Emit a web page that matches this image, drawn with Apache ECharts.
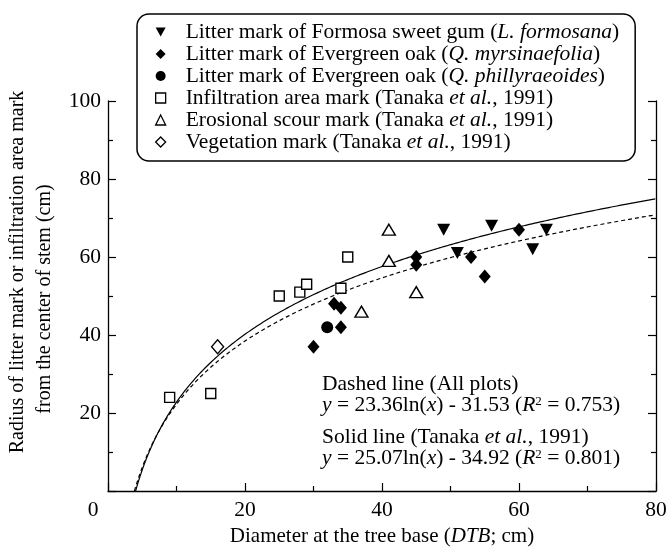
<!DOCTYPE html>
<html>
<head>
<meta charset="utf-8">
<script src="https://cdn.jsdelivr.net/npm/echarts@6/dist/echarts.min.js"></script>
<style>
  html, body { margin: 0; padding: 0; background: #fff; }
  #chart { width: 669px; height: 548px; }
</style>
</head>
<body>
<div id="chart"></div>
<script>
const FONT = '"Liberation Serif", "Times New Roman", serif';

// Legend entries and the italic fragment inside each
const seriesNames = [
  'Litter mark of Formosa sweet gum (L. formosana)',
  'Litter mark of Evergreen oak (Q. myrsinaefolia)',
  'Litter mark of Evergreen oak (Q. phillyraeoides)',
  'Infiltration area mark (Tanaka et al., 1991)',
  'Erosional scour mark (Tanaka et al., 1991)',
  'Vegetation mark (Tanaka et al., 1991)'
];
const italicParts = ['L. formosana', 'Q. myrsinaefolia', 'Q. phillyraeoides', 'et al.', 'et al.', 'et al.'];

// Measurements: diameter at tree base (cm) and mark radius (cm)
const sweetGumX = [49, 51, 56, 62, 64];
const sweetGumY = [67, 61, 68, 62, 67];
const myrsinaefoliaX = [30, 33, 34, 34, 45, 45, 53, 55, 60];
const myrsinaefoliaY = [37, 48, 47, 42, 60, 58, 60, 55, 67];
const phillyraeoidesX = [32];
const phillyraeoidesY = [42];
const infiltrationX = [9, 15, 25, 28, 29, 34, 35];
const infiltrationY = [24, 25, 50, 51, 53, 52, 60];
const erosionalX = [37, 41, 41, 45];
const erosionalY = [46, 67, 59, 51];
const vegetationX = [16];
const vegetationY = [37];

// Logarithmic fits y = a ln(x) + b
const dashedFit = [23.36, -31.53];   // all plots
const solidFit = [25.07, -34.92];    // Tanaka et al., 1991

const xTicks = [0, 20, 40, 60, 80];
const yTicks = [0, 20, 40, 60, 80, 100];

function pairs(xs, ys) { return xs.map((x, i) => [x, ys[i]]); }

function fitCurve(coef, xMax) {
  const [a, b] = coef;
  const x0 = Math.exp(-b / a);
  const pts = [[x0, 0]];
  for (let x = Math.ceil(x0 * 10) / 10; x <= xMax + 1e-9; x += 0.1) {
    pts.push([x, a * Math.log(x) + b]);
  }
  return pts;
}

const LEG_FS = 21.5;
const legendRich = {
  n: { fontFamily: FONT, fontSize: LEG_FS, lineHeight: 23.4, color: '#000' },
  i: { fontFamily: FONT, fontSize: LEG_FS, lineHeight: 23.4, color: '#000', fontStyle: 'italic' }
};

function richName(name) {
  const idx = seriesNames.indexOf(name);
  const frag = italicParts[idx];
  const k = name.indexOf(frag);
  return '{n|' + name.slice(0, k) + '}{i|' + frag + '}{n|' + name.slice(k + frag.length) + '}';
}

const black = '#000';
const downTriangle = 'path://M0,0L10,0L5,9Z';
const markerDefs = [
  { x: sweetGumX, y: sweetGumY, symbol: downTriangle, size: [13, 12], fill: black },
  { x: myrsinaefoliaX, y: myrsinaefoliaY, symbol: 'diamond', size: [12, 14], fill: black },
  { x: phillyraeoidesX, y: phillyraeoidesY, symbol: 'circle', size: 12, fill: black },
  { x: infiltrationX, y: infiltrationY, symbol: 'rect', size: 10, fill: '#fff' },
  { x: erosionalX, y: erosionalY, symbol: 'triangle', size: [13, 11], fill: '#fff' },
  { x: vegetationX, y: vegetationY, symbol: 'diamond', size: [12, 14], fill: '#fff' }
];

const scatterSeries = markerDefs.map((d, i) => ({
  name: seriesNames[i],
  type: 'scatter',
  data: pairs(d.x, d.y),
  symbol: d.symbol,
  symbolSize: d.size,
  itemStyle: { color: d.fill, borderColor: black, borderWidth: d.fill === black ? 0 : 1.4, opacity: 1 },
  z: 5
}));

const legendData = markerDefs.map((d, i) => ({
  name: seriesNames[i],
  icon: d.symbol,
  itemStyle: { color: d.fill, borderColor: black, borderWidth: d.fill === black ? 0 : 1.3 }
}));

const axisCommon = {
  type: 'value',
  axisLine: { show: true, lineStyle: { color: black, width: 1.3 } },
  axisTick: { show: true, inside: true, length: 8, lineStyle: { color: black, width: 1.2 } },
  minorTick: { show: true, splitNumber: 2, length: 5, lineStyle: { color: black, width: 1.2 } },
  splitLine: { show: false },
  minorSplitLine: { show: false }
};

const chart = echarts.init(document.getElementById('chart'), null, { renderer: 'canvas' });

chart.setOption({
  backgroundColor: '#fff',
  animation: false,
  textStyle: { fontFamily: FONT, color: black },
  grid: { left: 108, right: 13, top: 101, bottom: 57, outerBoundsMode: 'none', containLabel: false },
  legend: {
    data: legendData,
    orient: 'vertical',
    left: 137,
    top: 14,
    itemWidth: 10,
    itemHeight: 10,
    itemGap: 0,
    padding: [7, 16, 8, 18],
    borderColor: black,
    borderWidth: 1.5,
    borderRadius: 12,
    backgroundColor: '#fff',
    selectedMode: false,
    formatter: richName,
    textStyle: { rich: legendRich, padding: [0, 0, 0, 15] },
    z: 10
  },
  xAxis: Object.assign({}, axisCommon, {
    min: xTicks[0], max: xTicks[xTicks.length - 1], interval: xTicks[1] - xTicks[0],
    axisLabel: {
      fontFamily: FONT, fontSize: 21.5, color: black, margin: 8,
      // the shared origin label sits left of the corner
      formatter: v => v === 0 ? '{o|0}' : String(v),
      rich: { o: { fontFamily: FONT, fontSize: 21.5, color: black, padding: [0, 30, 0, 0] } }
    },
    name: '{n|Diameter at the tree base (}{i|DTB}{n|; cm)}',
    nameLocation: 'middle',
    nameGap: 31,
    nameTextStyle: {
      rich: {
        n: { fontFamily: FONT, fontSize: 21, color: black },
        i: { fontFamily: FONT, fontSize: 21, color: black, fontStyle: 'italic' }
      }
    }
  }),
  yAxis: [
    Object.assign({}, axisCommon, {
      position: 'left',
      min: yTicks[0], max: yTicks[yTicks.length - 1], interval: yTicks[1] - yTicks[0],
      axisLabel: {
        fontFamily: FONT, fontSize: 21.5, color: black, margin: 7,
        formatter: v => v === 0 ? '' : String(v)
      }
    }),
    Object.assign({}, axisCommon, {
      position: 'right',
      min: yTicks[0], max: yTicks[yTicks.length - 1], interval: yTicks[1] - yTicks[0],
      axisLabel: { show: false }
    })
  ],
  series: [
    {
      name: 'solid fit', type: 'line', data: fitCurve(solidFit, 80),
      showSymbol: false, symbol: 'none', smooth: false,
      lineStyle: { color: black, width: 1.2 }, z: 3, silent: true
    },
    {
      name: 'dashed fit', type: 'line', data: fitCurve(dashedFit, 80),
      showSymbol: false, symbol: 'none', smooth: false,
      lineStyle: { color: black, width: 1.2, type: [4, 3] }, z: 3, silent: true
    }
  ].concat(scatterSeries),
  graphic: [
    {
      type: 'text', rotation: Math.PI / 2, x: 18, y: 272,
      style: { text: 'Radius of litter mark or infiltration area mark', font: '20px ' + FONT, fill: black, align: 'center', verticalAlign: 'middle' }
    },
    {
      type: 'text', rotation: Math.PI / 2, x: 45, y: 299,
      style: { text: 'from the center of stem (cm)', font: '20px ' + FONT, fill: black, align: 'center', verticalAlign: 'middle' }
    },
    {
      type: 'text', left: 322, top: 373,
      style: {
        text: [
          '{n|Dashed line (All plots)}',
          '{i|y}{n| = 23.36ln(}{i|x}{n|) - 31.53 (}{i|R}{s|2}{n| = 0.753)}',
          '{g|}',
          '{n|Solid line (Tanaka }{i|et al.}{n|, 1991)}',
          '{i|y}{n| = 25.07ln(}{i|x}{n|) - 34.92 (}{i|R}{s|2}{n| = 0.801)}'
        ].join('\n'),
        rich: {
          n: { fontFamily: FONT, fontSize: 21.5, lineHeight: 21.5, fill: black },
          i: { fontFamily: FONT, fontSize: 21.5, lineHeight: 21.5, fill: black, fontStyle: 'italic' },
          s: { fontFamily: FONT, fontSize: 13, lineHeight: 14, fill: black, verticalAlign: 'top' },
          g: { lineHeight: 10, fontSize: 4 }
        }
      }
    }
  ]
});
</script>
</body>
</html>
